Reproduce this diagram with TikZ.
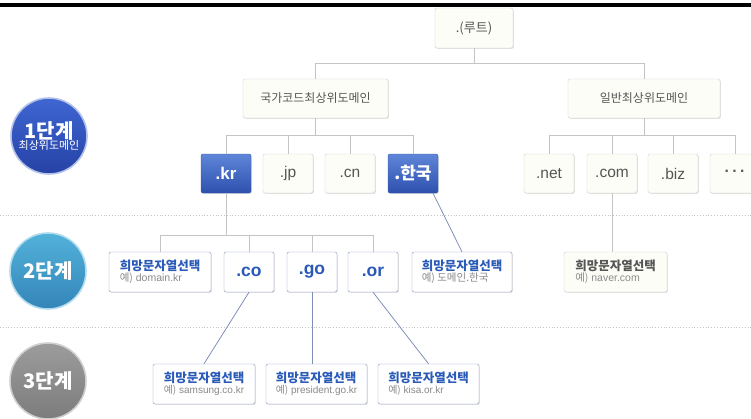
\documentclass[tikz,border=0pt]{standalone}
\usepackage{fontspec}
\setmainfont{Liberation Sans}
\newfontfamily\krfont{Noto Sans CJK KR}
\usetikzlibrary{calc,shadows}
\definecolor{boxline}{HTML}{CFCFCF}
\definecolor{boxfill}{HTML}{FDFDF8}
\definecolor{graytext}{HTML}{555555}
\definecolor{lighttext}{HTML}{8A8A8A}
\definecolor{blueline}{HTML}{3556A8}
\definecolor{bluetop}{HTML}{5F86D8}
\definecolor{bluebot}{HTML}{2D50AE}
\definecolor{linkline}{HTML}{8494BC}
\definecolor{linktext}{HTML}{2A5AB8}
\definecolor{treeline}{HTML}{C4C4C4}
\definecolor{diagline}{HTML}{7E90B8}
\definecolor{onetop}{HTML}{3F66D2}
\definecolor{onebot}{HTML}{2642A6}
\definecolor{onering}{HTML}{B4C2E8}
\definecolor{twotop}{HTML}{52B2DA}
\definecolor{twobot}{HTML}{3485B8}
\definecolor{tworing}{HTML}{B0DCEE}
\definecolor{threetop}{HTML}{9C9C9C}
\definecolor{threebot}{HTML}{7C7C7C}
\definecolor{threering}{HTML}{CFCFCF}
\begin{document}
\begin{tikzpicture}[x=1pt,y=-1pt,
    box/.style={rounded corners=2pt, inner sep=0pt, minimum height=39pt,
      drop shadow={shadow xshift=0.8pt, shadow yshift=-0.8pt, opacity=0.25}},
    graybox/.style={box, draw=boxline, fill=boxfill, text=graytext},
    tldbox/.style={graybox, minimum width=50pt, font=\fontsize{15.5}{16}\selectfont},
    bluebox/.style={box, draw=blueline, top color=bluetop, bottom color=bluebot,
      text=white, minimum width=50pt, font=\bfseries\fontsize{17}{17}\selectfont},
    linkbox/.style={box, draw=linkline, fill=white, text=linktext, minimum height=40pt,
      minimum width=50pt, font=\bfseries\fontsize{17.5}{18}\selectfont},
    wishbox/.style={box, draw=linkline, fill=white, align=left, minimum height=40pt},
    lvlcirc/.style={circle, minimum size=76pt, inner sep=0pt, line width=1.6pt,
      text=white, align=center},
    tline/.style={draw=treeline, line width=0.7pt},
    diag/.style={draw=diagline, line width=0.8pt},
    sepline/.style={draw=treeline, dotted, line width=0.8pt}]
  \useasboundingbox (0,0) rectangle (751,418);
  \fill[black] (0,3) rectangle (751,7);
  \draw[sepline] (0,215) -- (751,215);
  \draw[sepline] (0,327) -- (751,327);
  % level circles
  \node[lvlcirc, draw=onering, top color=onetop, bottom color=onebot]
    (lvl1) at (49,136) {{\krfont\bfseries\fontsize{20}{22}\selectfont 1단계}\\[-1pt]
    {\krfont\fontsize{11}{12}\selectfont 최상위도메인}};
  \node[lvlcirc, draw=tworing, top color=twotop, bottom color=twobot]
    (lvl2) at (48,271) {\krfont\bfseries\fontsize{20}{22}\selectfont 2단계};
  \node[lvlcirc, draw=threering, top color=threetop, bottom color=threebot]
    (lvl3) at (48,381) {\krfont\bfseries\fontsize{20}{22}\selectfont 3단계};
  % root and top level
  \node[graybox, minimum width=78pt, minimum height=40pt, font=\krfont\fontsize{13}{14}\selectfont]
    (root) at (474,28) {.(루트)};
  \node[graybox, minimum width=145pt, font=\krfont\fontsize{12}{13}\selectfont]
    (cc) at (315.5,98.5) {국가코드최상위도메인};
  \node[graybox, minimum width=152pt, font=\krfont\fontsize{12}{13}\selectfont]
    (gen) at (644,98.5) {일반최상위도메인};
  \node[bluebox] (kr) at (226,173.5) {.kr};
  \node[tldbox]  (jp) at (288,173.5) {.jp};
  \node[tldbox]  (cn) at (350,173.5) {.cn};
  \node[bluebox] (hk) at (413,173.5) {\krfont\bfseries .한국};
  \node[tldbox]  (net) at (549,173.5) {.net};
  \node[tldbox]  (com) at (612,173.5) {.com};
  \node[tldbox]  (biz) at (673,173.5) {.biz};
  \node[tldbox]  (more) at (735,173.5) {\bfseries ·\,·\,·};
  % second level
  \node[wishbox, minimum width=102pt] (wkr) at (160,272)
    {{\krfont\bfseries\color{linktext}\fontsize{12.5}{14}\selectfont 희망문자열선택}\\[-1pt]
     {\color{lighttext}\fontsize{10.5}{12}\selectfont{\krfont 예)} domain.kr}};
  \node[linkbox] (co) at (249,272) {.co};
  \node[linkbox] (go) at (312,272) {.go};
  \node[linkbox] (or) at (373,272) {.or};
  \node[wishbox, minimum width=100pt] (whk) at (462,272)
    {{\krfont\bfseries\color{linktext}\fontsize{12.5}{14}\selectfont 희망문자열선택}\\[-1pt]
     {\krfont\color{lighttext}\fontsize{10.5}{12}\selectfont 예) 도메인.한국}};
  \node[wishbox, draw=boxline, fill=boxfill, minimum width=103pt] (wcom) at (615.5,272)
    {{\krfont\bfseries\color{graytext}\fontsize{12.5}{14}\selectfont 희망문자열선택}\\[-1pt]
     {\color{lighttext}\fontsize{10.5}{12}\selectfont{\krfont 예)} naver.com}};
  % third level
  \node[wishbox, minimum width=102pt] (wco) at (204,384)
    {{\krfont\bfseries\color{linktext}\fontsize{12.5}{14}\selectfont 희망문자열선택}\\[-1pt]
     {\color{lighttext}\fontsize{10}{12}\selectfont{\krfont 예)} samsung.co.kr}};
  \node[wishbox, minimum width=101pt] (wgo) at (316.5,384)
    {{\krfont\bfseries\color{linktext}\fontsize{12.5}{14}\selectfont 희망문자열선택}\\[-1pt]
     {\color{lighttext}\fontsize{10}{12}\selectfont{\krfont 예)} president.go.kr}};
  \node[wishbox, minimum width=101pt] (wor) at (428.5,384)
    {{\krfont\bfseries\color{linktext}\fontsize{12.5}{14}\selectfont 희망문자열선택}\\[-1pt]
     {\color{lighttext}\fontsize{10}{12}\selectfont{\krfont 예)} kisa.or.kr}};
  % tree lines
  \draw[tline] (root.south) -- ++(0,15) coordinate (rootbus) -| (cc.north);
  \draw[tline] (rootbus) -| (gen.north);
  \foreach \n in {kr,jp,cn,hk}
    \draw[tline] (cc.south) -- ++(0,17) -| (\n.north);
  \foreach \n in {net,com,biz,more}
    \draw[tline] (gen.south) -- ++(0,17) -| (\n.north);
  \foreach \n in {wkr,co,go,or}
    \draw[tline] (kr.south) -- ++(0,42) -| (\n.north);
  \draw[tline] (com.south) -- (com.south |- wcom.north);
  \draw[diag] ($(hk.south)+(20,0)$) -- (whk.north);
  \draw[diag] (co.south) -- (wco.north);
  \draw[diag] (go.south) -- (go.south |- wgo.north);
  \draw[diag] (or.south) -- (wor.north);
\end{tikzpicture}
\end{document}
